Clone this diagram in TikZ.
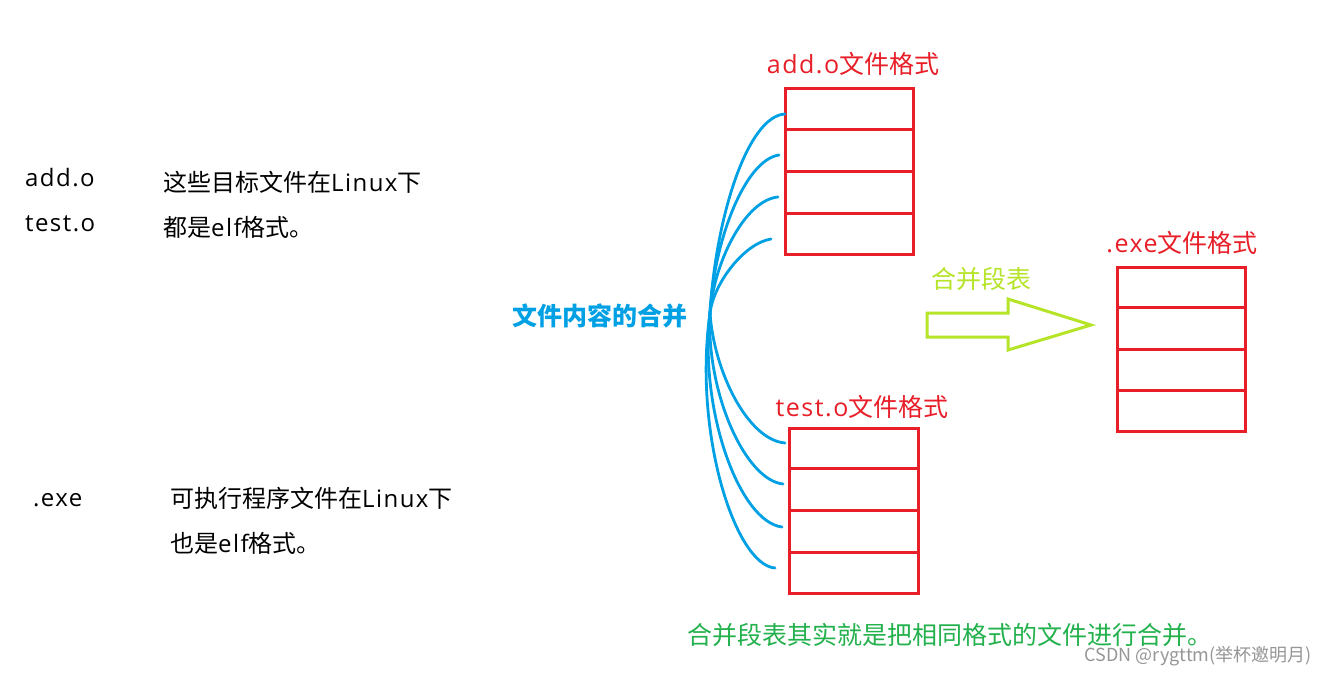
\documentclass[tikz,border=0pt]{standalone}
\usepackage{fontspec}
\setmainfont{Noto Sans CJK SC}
\newfontfamily\latfont[LetterSpace=6]{Open Sans}
\newcommand\LT[1]{{\latfont #1}}
\usetikzlibrary{calc}
\definecolor{pred}{RGB}{232,30,40}
\definecolor{pblue}{RGB}{0,160,228}
\definecolor{plime}{RGB}{181,228,40}
\definecolor{pgreen}{RGB}{34,177,76}
\definecolor{pgray}{RGB}{150,150,150}
\tikzset{
  txt/.style={inner sep=0pt, font=\fontsize{24}{28}\selectfont, text=black},
  lbl/.style={inner sep=0pt, font=\fontsize{25}{30}\selectfont, text=pred},
  rbox/.style={draw=pred, line width=3pt, inner sep=0pt},
  rline/.style={draw=pred, line width=3pt},
  bcurve/.style={draw=pblue, line width=2.8pt, line cap=round},
}
\begin{document}
\begin{tikzpicture}[x=1pt,y=-1pt]
\fill[white] (0,0) rectangle (1328,674);
\useasboundingbox (0,0) rectangle (1328,674);

% left texts
\node[txt, anchor=base west] (l1) at (25,186) {\LT{add.o}};
\node[txt, anchor=base west] (l2) at (163,191) {这些目标文件在\LT{Linux}下};
\node[txt, anchor=base west] (l3) at (25,231) {\LT{test.o}};
\node[txt, anchor=base west] (l4) at (163,236) {都是\LT{elf}格式。};
\node[txt, anchor=base west] (l5) at (33,506) {\LT{.exe}};
\node[txt, anchor=base west] (l6) at (170,507) {可执行程序文件在\LT{Linux}下};
\node[txt, anchor=base west] (l7) at (170,552) {也是\LT{elf}格式。};

% boxes
\node[rbox, minimum width=128pt, minimum height=165pt] (add) at (849,171.5) {};
\node[rbox, minimum width=129pt, minimum height=165pt] (test) at (853.5,510.5) {};
\node[rbox, minimum width=128pt, minimum height=164pt] (exe) at (1181,349) {};
\foreach \b in {add,test,exe}{
  \foreach \f in {0.25,0.5,0.75}{
    \draw[rline] ($(\b.north west)!\f!(\b.south west)$) -- ($(\b.north east)!\f!(\b.south east)$);
  }
}

% box labels
\node[lbl, anchor=base] (addl) at (853,74) {\LT{add.o}文件格式};
\node[lbl, anchor=base] (testl) at (862,416) {\LT{test.o}文件格式};
\node[lbl, anchor=base] (exel) at (1182,252) {\LT{.exe}文件格式};

% blue fan
\node[inner sep=0pt, text=pblue, font=\bfseries\fontsize{25}{30}\selectfont] (merge) at (600,316) {文件内容的合并};
\coordinate (hub) at (710,313);
\coordinate (t1) at (785,114);
\coordinate (t2) at (779,155);
\coordinate (t3) at (778,197);
\coordinate (t4) at (771,239);
\coordinate (b1) at (785,443);
\coordinate (b2) at (783,484);
\coordinate (b3) at (782,527);
\coordinate (b4) at (775,568);
\draw[bcurve] (hub) .. controls (716,215) and (748,116) .. (t1);
\draw[bcurve] (hub) .. controls (714,240) and (745,160) .. (t2);
\draw[bcurve] (hub) .. controls (714,262) and (745,200) .. (t3);
\draw[bcurve] (hub) .. controls (714,282) and (745,243) .. (t4);
\draw[bcurve] (hub) .. controls (714,372) and (748,440) .. (b1);
\draw[bcurve] (hub) .. controls (706,392) and (745,480) .. (b2);
\draw[bcurve] (hub) .. controls (699,412) and (740,522) .. (b3);
\draw[bcurve] (hub) .. controls (693,432) and (735,565) .. (b4);

% lime arrow
\node[inner sep=0pt, text=plime, font=\fontsize{25}{30}\selectfont] (hb) at (981,279) {合并段表};
\draw[plime, line width=3pt, line join=miter] (927,313) -- (1008,313) -- (1008,299) -- (1091,325) -- (1008,350) -- (1008,337) -- (927,337) -- cycle;

% bottom note
\node[inner sep=0pt, anchor=west, text=pgreen, font=\fontsize{25}{30}\selectfont] (note) at (687,635) {合并段表其实就是把相同格式的文件进行合并。};
\node[inner sep=0pt, anchor=east, text=pgray, font=\fontsize{18}{22}\selectfont] (wm) at (1312,656) {CSDN @rygttm(举杯邀明月)};
\end{tikzpicture}
\end{document}
